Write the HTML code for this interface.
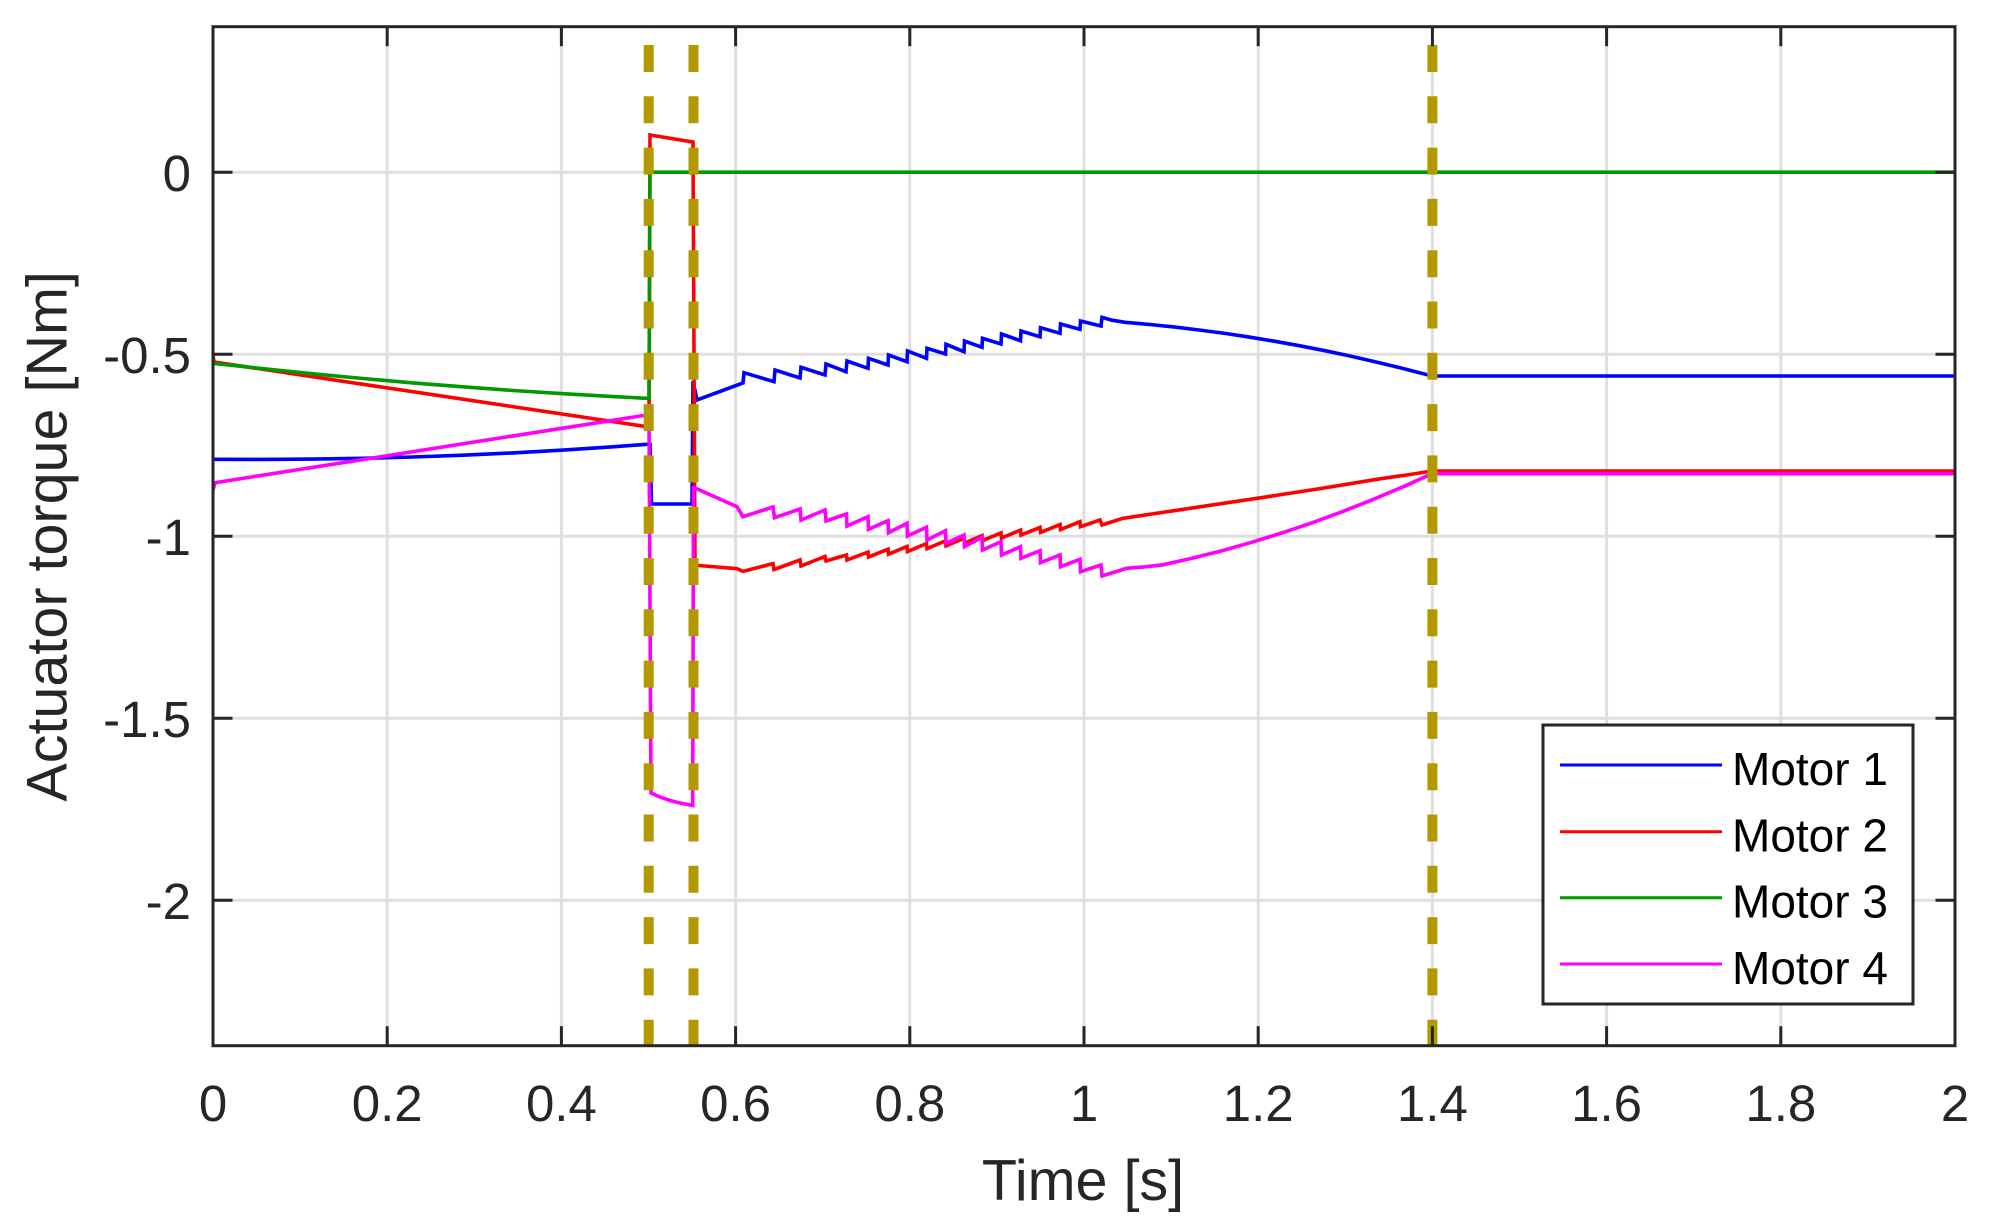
<!DOCTYPE html>
<html>
<head>
<meta charset="utf-8">
<style>
  html,body{margin:0;padding:0;background:#ffffff;}
  svg{display:block;}
  text{font-family:"Liberation Sans", Arial, sans-serif;}
</style>
</head>
<body>
<svg width="1994" height="1230" viewBox="0 0 1994 1230" xmlns="http://www.w3.org/2000/svg">
  <defs>
    <clipPath id="ax">
      <rect x="213" y="26.7" width="1742" height="1019"/>
    </clipPath>
  </defs>
  <rect x="0" y="0" width="1994" height="1230" fill="#ffffff"/>

  <!-- grid -->
  <g stroke="#dfdfdf" stroke-width="3" fill="none">
    <line x1="387.2" y1="26.7" x2="387.2" y2="1045.7"/>
    <line x1="561.4" y1="26.7" x2="561.4" y2="1045.7"/>
    <line x1="735.6" y1="26.7" x2="735.6" y2="1045.7"/>
    <line x1="909.8" y1="26.7" x2="909.8" y2="1045.7"/>
    <line x1="1084" y1="26.7" x2="1084" y2="1045.7"/>
    <line x1="1258.2" y1="26.7" x2="1258.2" y2="1045.7"/>
    <line x1="1432.4" y1="26.7" x2="1432.4" y2="1045.7"/>
    <line x1="1606.6" y1="26.7" x2="1606.6" y2="1045.7"/>
    <line x1="1780.8" y1="26.7" x2="1780.8" y2="1045.7"/>
    <line x1="213" y1="172.2" x2="1955" y2="172.2"/>
    <line x1="213" y1="354.2" x2="1955" y2="354.2"/>
    <line x1="213" y1="536.2" x2="1955" y2="536.2"/>
    <line x1="213" y1="718.2" x2="1955" y2="718.2"/>
    <line x1="213" y1="900.2" x2="1955" y2="900.2"/>
  </g>

  <!-- data -->
  <g clip-path="url(#ax)" fill="none" stroke-width="3.6" stroke-linejoin="miter">
    <!-- Motor 1 blue -->
    <polyline stroke="#0000ff" points="213,459.3 263,459.45 313,459.1 363,458.3 413,457 463,455.2 513,452.9 563,450.1 613,446.8 646.7,444.3 650,444.3 651.5,504 692,504 693,381 697,400 743,383 744,372.7 774,381.7 775,370 800,378 801,367.3 825,375 826,364 846,371.7 847,361 868,368.3 868.5,358.3 888,365 888.5,355 907,361.7 907.5,351 926.5,358.3 927,348.3 945.5,354 946,344.3 964,351.7 964.5,341 982,347.3 982.5,338.3 1001,344 1001.5,334 1020.5,340.7 1021,331 1040,336.7 1040.5,327.7 1060,333.3 1060.5,324 1080,329.3 1080.5,321 1101,326 1102,317.3 1112,320.2 1125,322.3 1150,324.5 1175,327.1 1200,330.1 1225,333.4 1250,337.2 1275,341.3 1300,345.8 1325,350.7 1350,356 1375,361.7 1400,367.7 1432,376 1955,376"/>
    <!-- Motor 2 red -->
    <polyline stroke="#ff0000" points="213,355 214,362 646.7,426.7 649,427 650,135 693,142 695,565 697,565.4 737,568.6 743,571.4 773,563.6 774,569.6 800,560 801,566 825,556.4 826,561 846.5,555 847,560 868,552.1 868.5,557.1 888,549.2 888.5,554.2 907,546.5 907.5,551.5 926.5,543.6 927,548.6 945.5,540.9 946,545.9 964,538.2 964.5,543.2 982,535.6 982.5,540.6 1001,533.0 1001.5,538.0 1020.5,530.1 1021,535.1 1040,527.4 1040.5,532.4 1060,524.6 1060.5,529.6 1080,521.7 1080.5,526.7 1100,520 1102,525 1123,518.3 1190,508.3 1257,498.3 1320,488.6 1380,478.8 1410,474.5 1432,471 1955,471"/>
    <!-- Motor 3 green -->
    <polyline stroke="#009900" points="213,363.3 263,368.7 313,373.8 363,378.5 413,382.9 463,386.8 513,390.5 563,393.7 613,396.6 646.7,398.3 649,398.3 650,172.2 1955,172.2"/>
    <!-- Motor 4 magenta -->
    <polyline stroke="#ff00ff" points="213,490 215,482.7 646.7,415 649,415 651,793 660,797 670,800.5 680,803 692.7,805.4 693.5,488 695,488 737,506.7 743,516.7 773,507 774.5,517.7 800,509 801,520 825,510 826,521 846.5,514 847,526 868,516.7 868.5,529.3 888,520.7 888.5,532.7 907,523.3 907.5,536 926.5,527.3 927,540 945.5,530.7 946,543.3 964,535 964.5,546.7 982,537.3 982.5,550 1001,541.7 1001.5,555 1020.5,546.7 1021,558.3 1040,550.7 1040.5,562.7 1060,555 1060.5,566.7 1080,559.3 1080.5,571.7 1101,565 1102,576 1126.7,568.3 1145,566.8 1163,564.8 1192,558.3 1222,550.7 1252,542.2 1282,532.9 1312,522.8 1342,511.8 1372,499.9 1402,487.3 1432,473.7 1955,473.7"/>
  </g>

  <!-- vertical dashed event lines -->
  <g stroke="#b29900" stroke-width="10" stroke-dasharray="27 24.3" stroke-dashoffset="33" fill="none">
    <line x1="648.7" y1="26.7" x2="648.7" y2="1045.7"/>
    <line x1="693.5" y1="26.7" x2="693.5" y2="1045.7"/>
    <line x1="1432.4" y1="26.7" x2="1432.4" y2="1045.7"/>
  </g>

  <!-- axes box -->
  <rect x="213" y="26.7" width="1742" height="1019" fill="none" stroke="#262626" stroke-width="3"/>

  <!-- ticks -->
  <g stroke="#262626" stroke-width="3">
    <line x1="387.2" y1="1045.7" x2="387.2" y2="1026.2"/>
    <line x1="561.4" y1="1045.7" x2="561.4" y2="1026.2"/>
    <line x1="735.6" y1="1045.7" x2="735.6" y2="1026.2"/>
    <line x1="909.8" y1="1045.7" x2="909.8" y2="1026.2"/>
    <line x1="1084" y1="1045.7" x2="1084" y2="1026.2"/>
    <line x1="1258.2" y1="1045.7" x2="1258.2" y2="1026.2"/>
    <line x1="1432.4" y1="1045.7" x2="1432.4" y2="1026.2"/>
    <line x1="1606.6" y1="1045.7" x2="1606.6" y2="1026.2"/>
    <line x1="1780.8" y1="1045.7" x2="1780.8" y2="1026.2"/>
    <line x1="387.2" y1="26.7" x2="387.2" y2="46.2"/>
    <line x1="561.4" y1="26.7" x2="561.4" y2="46.2"/>
    <line x1="735.6" y1="26.7" x2="735.6" y2="46.2"/>
    <line x1="909.8" y1="26.7" x2="909.8" y2="46.2"/>
    <line x1="1084" y1="26.7" x2="1084" y2="46.2"/>
    <line x1="1258.2" y1="26.7" x2="1258.2" y2="46.2"/>
    <line x1="1432.4" y1="26.7" x2="1432.4" y2="46.2"/>
    <line x1="1606.6" y1="26.7" x2="1606.6" y2="46.2"/>
    <line x1="1780.8" y1="26.7" x2="1780.8" y2="46.2"/>
    <line x1="213" y1="172.2" x2="232.5" y2="172.2"/>
    <line x1="213" y1="354.2" x2="232.5" y2="354.2"/>
    <line x1="213" y1="536.2" x2="232.5" y2="536.2"/>
    <line x1="213" y1="718.2" x2="232.5" y2="718.2"/>
    <line x1="213" y1="900.2" x2="232.5" y2="900.2"/>
    <line x1="1955" y1="172.2" x2="1935.5" y2="172.2"/>
    <line x1="1955" y1="354.2" x2="1935.5" y2="354.2"/>
    <line x1="1955" y1="536.2" x2="1935.5" y2="536.2"/>
    <line x1="1955" y1="718.2" x2="1935.5" y2="718.2"/>
    <line x1="1955" y1="900.2" x2="1935.5" y2="900.2"/>
  </g>

  <!-- x tick labels -->
  <g fill="#262626" font-size="51" text-anchor="middle">
    <text x="213" y="1121">0</text>
    <text x="387.2" y="1121">0.2</text>
    <text x="561.4" y="1121">0.4</text>
    <text x="735.6" y="1121">0.6</text>
    <text x="909.8" y="1121">0.8</text>
    <text x="1084" y="1121">1</text>
    <text x="1258.2" y="1121">1.2</text>
    <text x="1432.4" y="1121">1.4</text>
    <text x="1606.6" y="1121">1.6</text>
    <text x="1780.8" y="1121">1.8</text>
    <text x="1955" y="1121">2</text>
  </g>

  <!-- y tick labels -->
  <g fill="#262626" font-size="51" text-anchor="end">
    <text x="191" y="191">0</text>
    <text x="191" y="373">-0.5</text>
    <text x="191" y="555">-1</text>
    <text x="191" y="737">-1.5</text>
    <text x="191" y="919">-2</text>
  </g>

  <!-- axis labels -->
  <text x="1083" y="1200" fill="#262626" font-size="57.5" text-anchor="middle">Time [s]</text>
  <text x="66.7" y="536.4" fill="#262626" font-size="57.5" text-anchor="middle" transform="rotate(-90 66.7 536.4)">Actuator torque [Nm]</text>

  <!-- legend -->
  <rect x="1543" y="725" width="370" height="279" fill="#ffffff" stroke="#262626" stroke-width="3"/>
  <g stroke-width="3">
    <line x1="1560" y1="765" x2="1722" y2="765" stroke="#0000ff"/>
    <line x1="1560" y1="831.7" x2="1722" y2="831.7" stroke="#ff0000"/>
    <line x1="1560" y1="897.7" x2="1722" y2="897.7" stroke="#009900"/>
    <line x1="1560" y1="964" x2="1722" y2="964" stroke="#ff00ff"/>
  </g>
  <g fill="#000000" font-size="46">
    <text x="1732" y="785">Motor 1</text>
    <text x="1732" y="851.7">Motor 2</text>
    <text x="1732" y="917.7">Motor 3</text>
    <text x="1732" y="984">Motor 4</text>
  </g>
</svg>
</body>
</html>
